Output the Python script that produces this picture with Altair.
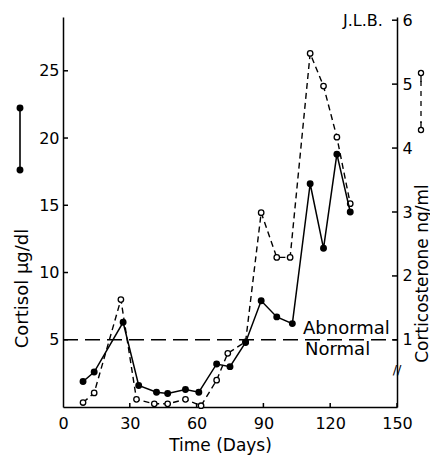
import altair as alt
import pandas as pd

# ---- data ----
days_cortisol = [9, 14, 27, 34, 42, 47, 55, 61, 69, 75, 82, 89, 96, 103, 111, 117, 123, 129]
cortisol = [1.9, 2.6, 6.3, 1.6, 1.1, 1.0, 1.3, 1.1, 3.2, 3.0, 4.8, 7.9, 6.7, 6.2, 16.6, 11.8, 18.8, 14.5]

days_cortico = [9, 14, 26, 33, 41, 47, 55, 62, 69, 74, 82, 89, 96, 102, 111, 117, 123, 129]
corticosterone = [0.02, 0.17, 1.63, 0.07, 0.0, 0.0, 0.07, -0.03, 0.37, 0.79, 0.97, 2.99, 2.29, 2.29, 5.48, 4.97, 4.17, 3.13]

x_ticks = [0, 30, 60, 90, 120, 150]
left_ticks = [5, 10, 15, 20, 25]
right_ticks = [1, 2, 3, 4, 5, 6]
abnormal_level = [5]

W, H = 334, 390
FONT = "DejaVu Sans"

df_c = pd.DataFrame({"day": days_cortisol, "value": cortisol})
df_s = pd.DataFrame({"day": days_cortico, "value": corticosterone})
df_lt = pd.DataFrame({"value": left_ticks})
df_rt = pd.DataFrame({"value": right_ticks})
df_xt = pd.DataFrame({"day": x_ticks[1:]})
df_ab = pd.DataFrame({"value": abnormal_level})
one = pd.DataFrame({"t": [""]})

X = alt.X("day:Q", scale=alt.Scale(domain=[0, 150], nice=False, zero=False),
          axis=alt.Axis(values=x_ticks, tickSize=0, labelPadding=8, title="Time (Days)",
                        titleX=157, titleY=43, titleAlign="center", titleBaseline="alphabetic",
                        titleFontSize=17, titleFontWeight="normal", labelFontSize=16,
                        labelFlush=False))

YL = alt.Y("value:Q", scale=alt.Scale(domain=[0, 29], nice=False, zero=False),
           axis=alt.Axis(values=left_ticks, orient="left", tickSize=0, labelPadding=4,
                         title="Cortisol  μg/dl", titleAngle=270, titleX=-41, titleY=271,
                         titleAlign="center", titleBaseline="middle", titleFontSize=18,
                         titleFontWeight="normal", labelFontSize=16))

YR = alt.Y("value:Q", scale=alt.Scale(domain=[-0.05, 6.05], nice=False, zero=False),
           axis=alt.Axis(values=right_ticks, orient="right", tickSize=0, labelPadding=5,
                         title="Corticosterone  ng/ml", titleAngle=270, titleX=25, titleY=256,
                         titleAlign="center", titleBaseline="middle", titleFontSize=17,
                         titleFontWeight="normal", labelFontSize=16))

# right-axis (corticosterone) layer
cort_line = alt.Chart(df_s).mark_line(color="black", strokeWidth=1.4, strokeDash=[6, 4]).encode(x=X, y=YR)
cort_pts = alt.Chart(df_s).mark_point(shape="circle", filled=True, fill="white", stroke="black",
                                       strokeWidth=1.3, size=30, opacity=1).encode(x=X, y=YR)
r_ticks = alt.Chart(df_rt).mark_rule(color="black", strokeWidth=1.5).encode(
    y=YR, x=alt.value(W), x2=alt.value(W - 5))
layer_right = alt.layer(cort_line, cort_pts, r_ticks)

# left-axis (cortisol) layer
c_line = alt.Chart(df_c).mark_line(color="black", strokeWidth=1.5).encode(x=X, y=YL)
c_pts = alt.Chart(df_c).mark_circle(color="black", size=48, opacity=1).encode(x=X, y=YL)
ab_rule = alt.Chart(df_ab).mark_rule(color="black", strokeWidth=1.5, strokeDash=[15, 7]).encode(
    y=YL, x=alt.value(0), x2=alt.value(W))
l_ticks = alt.Chart(df_lt).mark_rule(color="black", strokeWidth=1.5).encode(
    y=YL, x=alt.value(0), x2=alt.value(5))
x_tk = alt.Chart(df_xt).mark_rule(color="black", strokeWidth=1.5).encode(
    x=X, y=alt.value(H), y2=alt.value(H - 4))
layer_left = alt.layer(ab_rule, l_ticks, x_tk, c_line, c_pts)

# annotations and legend glyphs
def txt(s, x, y, size, align="left"):
    return alt.Chart(one).mark_text(text=s, font=FONT, fontSize=size, align=align,
                                    baseline="middle", color="black").encode(
        x=alt.value(x), y=alt.value(y))

annots = [
    txt("Abnormal", 240, 312, 18),
    txt("Normal", 242, 333, 18),
    txt("J.L.B.", 280, 4, 16),
    txt("//", W, 353, 13, align="center"),
]

LX = 358
leg = [
    alt.Chart(one).mark_rule(color="black", strokeWidth=1.6).encode(
        x=alt.value(-43), y=alt.value(91), y2=alt.value(153)),
    alt.Chart(one).mark_circle(color="black", size=48, opacity=1).encode(x=alt.value(-43), y=alt.value(91)),
    alt.Chart(one).mark_circle(color="black", size=48, opacity=1).encode(x=alt.value(-43), y=alt.value(153)),
    alt.Chart(one).mark_rule(color="black", strokeWidth=1.3, strokeDash=[5, 5]).encode(
        x=alt.value(LX), y=alt.value(64), y2=alt.value(106)),
    alt.Chart(one).mark_rule(color="black", strokeWidth=1.3).encode(
        x=alt.value(LX), y=alt.value(56), y2=alt.value(65)),
    alt.Chart(one).mark_rule(color="black", strokeWidth=1.3).encode(
        x=alt.value(LX), y=alt.value(105), y2=alt.value(113)),
    alt.Chart(one).mark_point(shape="circle", filled=True, fill="white", stroke="black",
                              strokeWidth=1.3, size=26, opacity=1).encode(x=alt.value(LX), y=alt.value(56)),
    alt.Chart(one).mark_point(shape="circle", filled=True, fill="white", stroke="black",
                              strokeWidth=1.3, size=26, opacity=1).encode(x=alt.value(LX), y=alt.value(113)),
]

chart = alt.layer(layer_right, layer_left, *annots, *leg).resolve_scale(
    y="independent"
).properties(
    width=W, height=H,
    autosize=alt.AutoSizeParams(type="none"),
    padding={"left": 55, "top": 9, "right": 33, "bottom": 48},
).configure_view(stroke=None).configure_axis(
    grid=False, domainColor="black", domainWidth=1.5, labelColor="black", titleColor="black",
    labelFont=FONT, titleFont=FONT,
)

chart.save("out.html", embed_options={"renderer": "svg", "actions": False})
